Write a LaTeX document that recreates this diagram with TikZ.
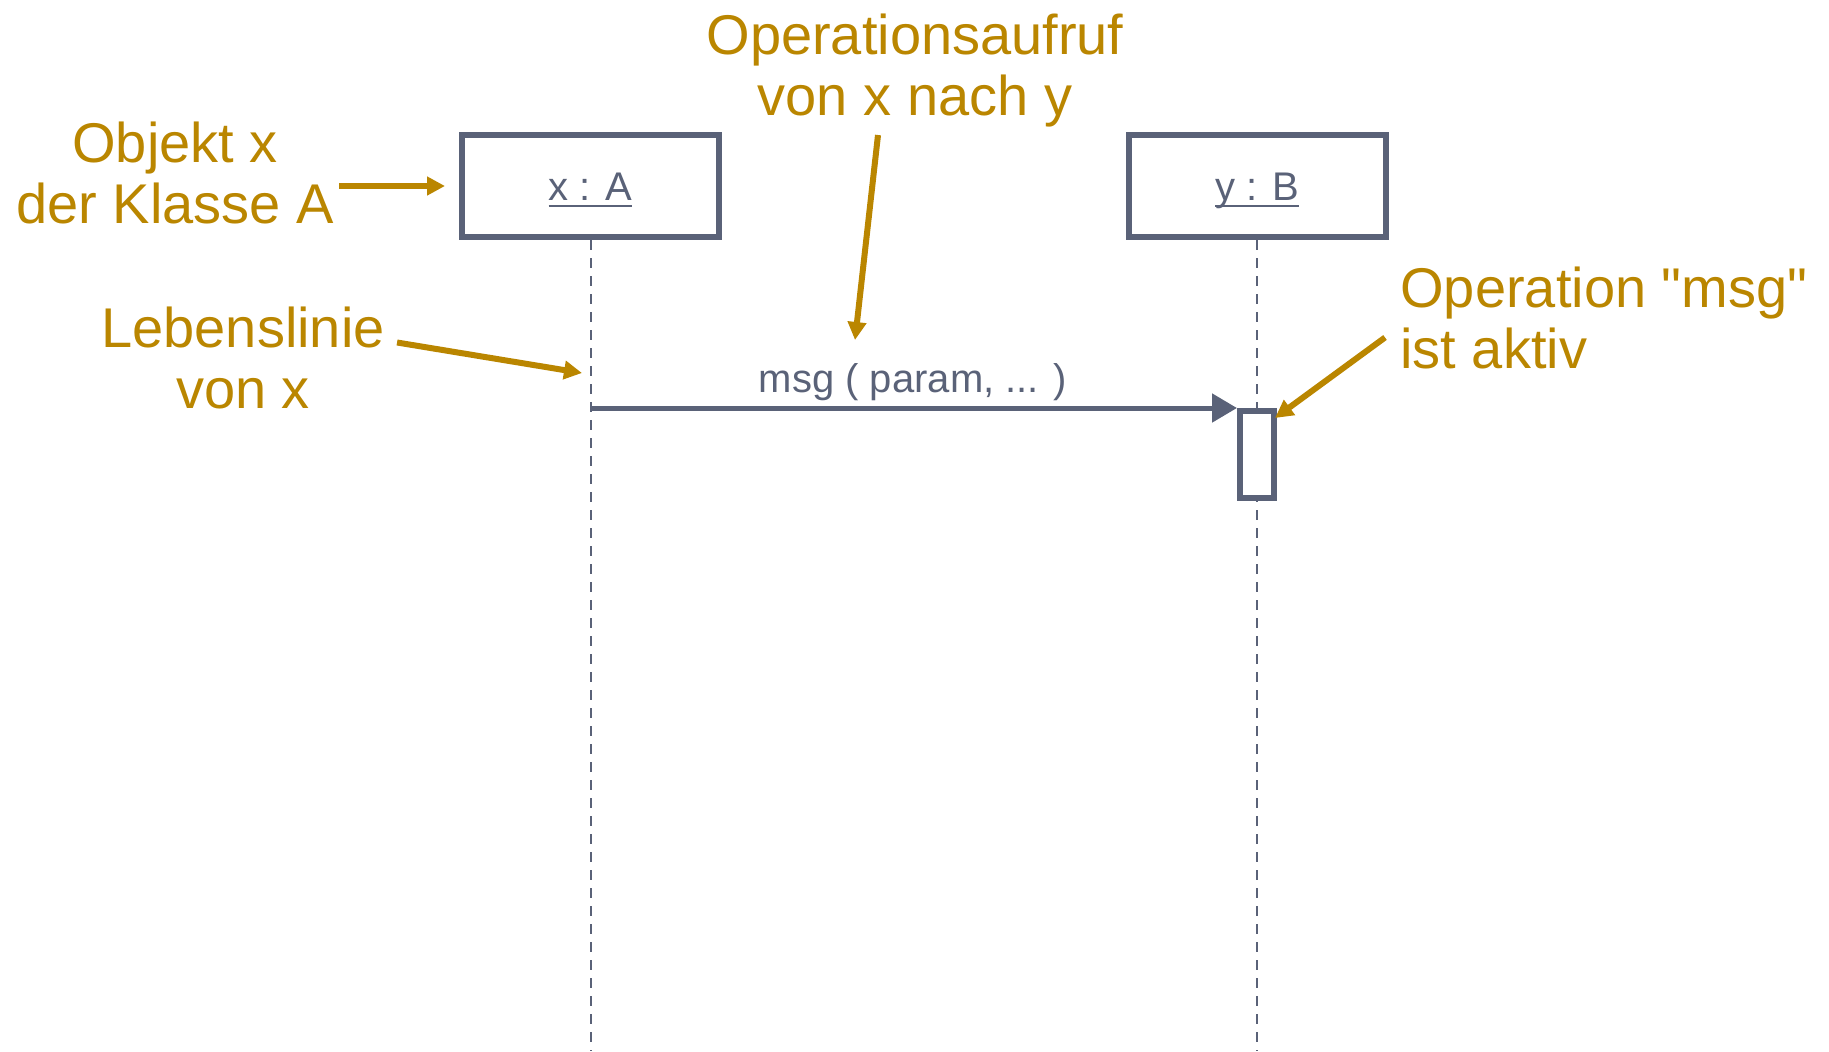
\documentclass[tikz,border=0pt]{standalone}
\usepackage{fontspec}
\setmainfont{Liberation Sans}
\newfontfamily\notefont{Liberation Sans}
\usetikzlibrary{arrows.meta}
\definecolor{umlgray}{RGB}{90,98,120}
\definecolor{notegold}{RGB}{186,134,0}
\newcommand{\ulname}[1]{\setbox0\hbox{#1}\rlap{\raisebox{-3.5pt}{\rule{\wd0}{1pt}}}\box0}
\begin{document}
\begin{tikzpicture}[x=0.5pt, y=-0.5pt,
  objbox/.style={draw=umlgray, line width=3pt, minimum width=128.5pt, minimum height=51pt, text=umlgray, font=\fontsize{20}{24}\selectfont, text height=16pt, text depth=2pt, inner sep=0pt},
  actbox/.style={draw=umlgray, fill=white, line width=3pt, minimum width=17pt, minimum height=43.5pt, inner sep=0pt},
  lifeline/.style={draw=umlgray, line width=1pt, dash pattern=on 5pt off 4pt},
  msgarrow/.style={draw=umlgray, line width=2.5pt, -{Triangle[length=12.5pt,width=14pt]}},
  notetext/.style={text=notegold, font=\notefont\fontsize{28}{30.5}\selectfont, inner sep=0pt},
  notearrow/.style={draw=notegold, line width=3pt, -{Triangle[length=9pt,width=9pt]}}]
\useasboundingbox (0,0) rectangle (1829,1051);
\node[objbox] (objA) at (590.5,186){\ulname{x : A}};
\node[objbox] (objB) at (1257,186){\ulname{y : B}};
\coordinate (endA) at (590.5,1051);
\coordinate (endB) at (1257,1051);
\draw[lifeline](objA.south) -- (endA);
\draw[lifeline](objB.south) -- (endB);
\node[actbox] (actB) at (1257,454.5){};
\coordinate (msgStart) at (590.5,408);
\draw[msgarrow](msgStart) -- (actB.north west);
\node[text=umlgray, font=\fontsize{20}{24}\selectfont, anchor=base, inner sep=0pt] (msgLbl) at (913,392){msg ( param, ... )};
\node[notetext, align=center, anchor=base] (objLbl) at (175,223){Objekt x\\der Klasse A};
\node[notetext, align=center, anchor=base] (opLbl) at (915,115){Operationsaufruf\\von x nach y};
\node[notetext, align=center, anchor=base] (lebLbl) at (243,408){Lebenslinie\\von x};
\node[notetext, align=left, anchor=base west] (aktLbl) at (1400,368){Operation "msg"\\ist aktiv};
\draw[notearrow, shorten <=2.5pt, shorten >=7pt](objLbl.east |- objA.west) -- (objA.west);
\coordinate (opTip) at (855,340);
\draw[notearrow]([xshift=-18.5pt,yshift=-4pt]opLbl.south) -- (opTip);
\coordinate (lifeTip) at (582,373);
\draw[notearrow]([xshift=6pt,yshift=7.5pt]lebLbl.east) -- (lifeTip);
\draw[notearrow]([xshift=-7.5pt,yshift=-10pt]aktLbl.west) -- ([xshift=-1pt,yshift=-5pt]actB.north east);
\end{tikzpicture}
\end{document}
